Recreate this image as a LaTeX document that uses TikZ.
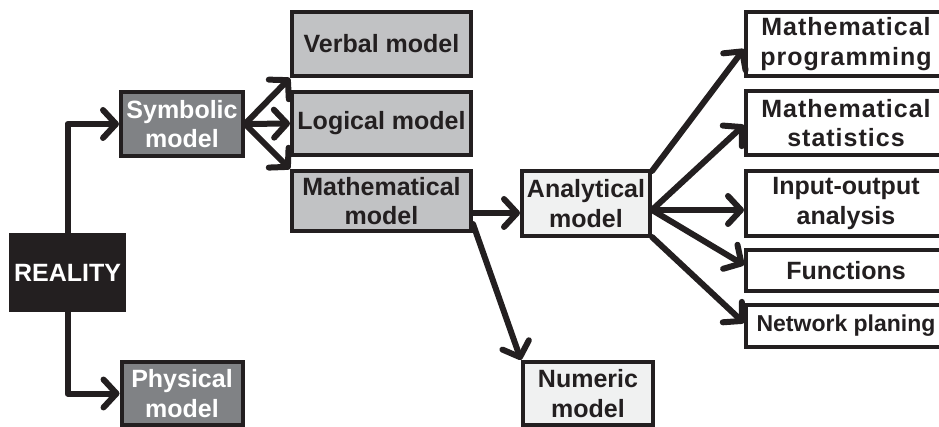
\documentclass[tikz,border=0pt]{standalone}
\usepackage{fontspec}
\setmainfont{Liberation Sans}
\usetikzlibrary{arrows.meta}
\definecolor{ink}{HTML}{231F20}
\definecolor{darkbox}{HTML}{808285}
\definecolor{midbox}{HTML}{C1C2C4}
\definecolor{lightbox}{HTML}{F0F1F1}
\tikzset{
  box/.style={draw=ink, line width=4pt, rectangle, inner sep=0pt, align=center,
    font=\fontsize{25}{29.5}\selectfont\bfseries, text=ink},
  realbox/.style={box, fill=ink, text=white},
  symbox/.style={box, fill=darkbox, text=white},
  kindbox/.style={box, fill=midbox},
  mathbox/.style={box, fill=lightbox},
  methodbox/.style={box, fill=white},
  widebox/.style={methodbox, font=\fontsize{25}{29.5}\selectfont\bfseries\addfontfeature{LetterSpace=4}},
  narrowbox/.style={methodbox, font=\fontsize{23}{29.5}\selectfont\bfseries},
  link/.style={draw=ink, line width=6pt, line cap=round, line join=round,
    -{Straight Barb[length=13pt, width=28pt, line width=6pt, round]}},
}
\begin{document}
\begin{tikzpicture}[x=1pt, y=-1pt]
  \useasboundingbox (0,0) rectangle (939,427);
  \begin{scope}
  \clip (0,0) rectangle (939,427);

  % first level
  \node[realbox, minimum width=113pt, minimum height=75pt] (real) at (67.5,272.5) {REALITY};
  \node[symbox, minimum width=122pt, minimum height=64pt] (sym) at (182,124) {Symbolic\\model};
  \node[symbox, minimum width=121pt, minimum height=63pt] (phys) at (182,393.5) {Physical\\model};

  % symbolic models
  \node[kindbox, minimum width=179pt, minimum height=64pt] (verbal) at (381.5,44) {Verbal model};
  \node[kindbox, minimum width=179pt, minimum height=63pt] (logic) at (381.5,123.5) {Logical model};
  \node[kindbox, minimum width=179pt, minimum height=60pt] (math) at (381.5,201) {Mathematical\\model};

  % mathematical models
  \node[mathbox, minimum width=128pt, minimum height=65pt] (anal) at (586,203.5) {Analytical\\model};
  \node[mathbox, minimum width=130pt, minimum height=63pt] (num) at (588,393.5) {Numeric\\model};

  % analytical methods
  \node[widebox, minimum width=200pt, minimum height=64pt] (mp) at (846,44) {Mathematical\\programming};
  \node[widebox, minimum width=200pt, minimum height=64pt] (ms) at (846,123) {Mathematical\\statistics};
  \node[methodbox, minimum width=200pt, minimum height=65pt] (io) at (846,203.5) {Input-output\\analysis};
  \node[methodbox, minimum width=200pt, minimum height=41pt] (fn) at (846,271) {Functions};
  \node[narrowbox, minimum width=200pt, minimum height=42pt] (net) at (846,326) {Network planing};

  % connectors
  \draw[link] (real.north) |- (sym.west);
  \draw[link] (real.south) |- (phys.west);
  \draw[link] (sym.east) -- (verbal.south west);
  \draw[link] (sym.east) -- (logic.west);
  \draw[link] (sym.east) -- (math.north west);
  \draw[link] ([yshift=-12pt]math.east) -- ([yshift=-12pt]math.east -| anal.west);
  \draw[link] ([yshift=9pt]math.south east) -- (num.north west);
  \coordinate (fan) at ([yshift=-6.5pt]anal.east);
  \draw[link] ([yshift=-2pt]anal.north east) -- ([yshift=-5pt]mp.west);
  \draw[link] (fan) -- ([yshift=-2pt]ms.west);
  \draw[link] (fan) -- (fan -| io.west);
  \draw[link] (fan) -- ([yshift=6pt]fn.west);
  \draw[link] ([yshift=1pt]anal.south east) -- ([yshift=3pt]net.west);
  \end{scope}
\end{tikzpicture}
\end{document}
